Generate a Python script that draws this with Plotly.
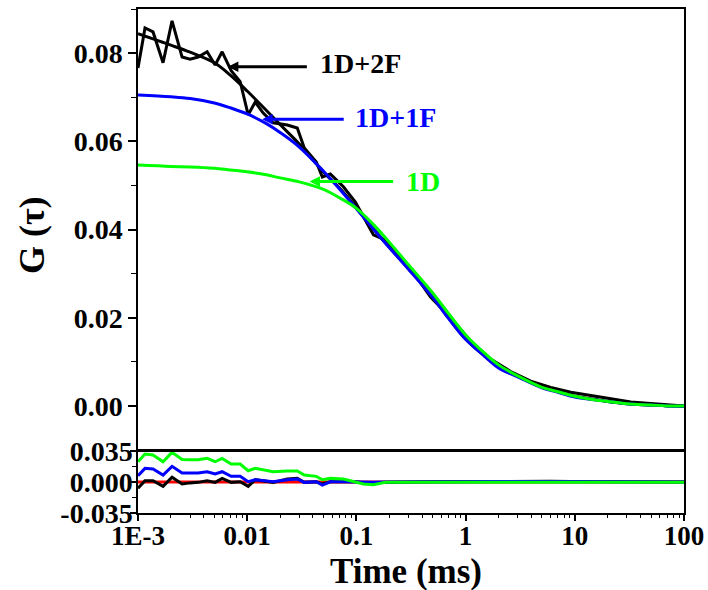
import math
import plotly.graph_objects as go

# ---------------- data ----------------
tau_data = [0.001000, 0.001159, 0.001373, 0.001696, 0.002050, 0.002533, 0.003000,
            0.003553, 0.004296, 0.005086, 0.005896, 0.007130, 0.008623, 0.01021,
            0.01184, 0.01402, 0.01731, 0.02328, 0.02875, 0.03333, 0.04295, 0.04875,
            0.05774, 0.07599, 0.09790, 0.1159, 0.1432, 0.1845, 0.2377, 0.3333,
            0.4775, 0.7285, 1.112, 1.696, 2.587, 3.947, 6.023, 9.190, 14.02,
            21.40, 32.65, 49.81, 76.00, 100.0]
g_data = [0.0766, 0.0857, 0.0848, 0.0778, 0.0873, 0.0791, 0.0786, 0.0791, 0.0803,
          0.0773, 0.0803, 0.0760, 0.0735, 0.0660, 0.0689, 0.0664, 0.0642, 0.0637,
          0.0630, 0.0585, 0.0553, 0.0519, 0.0526, 0.0497, 0.0462, 0.0428, 0.0388,
          0.0376, 0.0347, 0.0302, 0.0247, 0.0200, 0.0147, 0.0106, 0.0078, 0.0056,
          0.0042, 0.0031, 0.0023, 0.0016, 0.0009, 0.0005, 0.0002, 0.0000]

res_1d2f = [-0.0071, 0.0014, 0.0014, -0.0049, 0.0053, -0.0023, -0.0010, -0.0004,
            0.0014, -0.0004, 0.0041, -0.0004, 0.0003, -0.0049, 0.0026, 0.0010,
            -0.0004, 0.0034, 0.0041, -0.0004, 0.0003, -0.0023, 0.0003, 0.0003,
            0.0003, -0.0008, -0.0005, 0.0000, 0.0000, 0.0000, 0.0002, 0.0003,
            0.0005, 0.0010, 0.0012, 0.0010, 0.0008, 0.0005, 0.0003, 0.0002,
            0.0000, 0.0000, 0.0000, 0.0000]
res_1d1f = [0.0071, 0.0154, 0.0146, 0.0079, 0.0177, 0.0101, 0.0101, 0.0101, 0.0116,
            0.0090, 0.0116, 0.0064, 0.0064, 0.0003, 0.0026, 0.0015, 0.0003, 0.0026,
            0.0034, -0.0004, 0.0003, -0.0034, 0.0003, 0.0003, 0.0000, -0.0005,
            -0.0003, 0.0000, 0.0000, -0.0003, -0.0005, -0.0003, 0.0002, 0.0005,
            0.0005, 0.0005, 0.0003, 0.0003, 0.0002, 0.0000, 0.0000, 0.0000, 0.0000,
            0.0000]
res_1d = [0.0229, 0.0316, 0.0305, 0.0229, 0.0335, 0.0254, 0.0251, 0.0251, 0.0267,
          0.0229, 0.0267, 0.0203, 0.0203, 0.0127, 0.0154, 0.0139, 0.0116, 0.0124,
          0.0124, 0.0079, 0.0064, 0.0026, 0.0041, 0.0034, 0.0003, -0.0023, -0.0031,
          -0.0004, -0.0004, -0.0004, -0.0002, 0.0000, 0.0002, 0.0000, -0.0003,
          -0.0003, -0.0003, -0.0003, -0.0003, -0.0003, -0.0003, -0.0003, -0.0003,
          -0.0003]
res_zero = [0.0] * len(tau_data)

fit_tau = [0.001, 0.002, 0.003, 0.005, 0.007, 0.01, 0.015, 0.02, 0.03, 0.05, 0.07,
           0.1, 0.15, 0.2, 0.3, 0.5, 0.7, 1, 1.5, 2, 3, 5, 7, 10, 15, 20, 30, 50,
           70, 100]
fit_1d = [0.0546, 0.0543, 0.0542, 0.0539, 0.0535, 0.0531, 0.0524, 0.0517, 0.0508,
          0.0491, 0.0472, 0.0448, 0.0406, 0.0371, 0.0320, 0.0256, 0.0209, 0.0161,
          0.0119, 0.0093, 0.0068, 0.0042, 0.0032, 0.0022, 0.0014, 0.0010, 0.0005,
          0.0002, 0.0000, 0.0000]
fit_1d1f = [0.0705, 0.0701, 0.0697, 0.0687, 0.0676, 0.0662, 0.0640, 0.0620, 0.0587,
            0.0532, 0.0492, 0.0447, 0.0395, 0.0359, 0.0310, 0.0246, 0.0198, 0.0151,
            0.0112, 0.0086, 0.0066, 0.0041, 0.0031, 0.0020, 0.0014, 0.0010, 0.0005,
            0.0002, 0.0000, -0.0001]
fit_1d2f = [0.0844, 0.0818, 0.0802, 0.0778, 0.0750, 0.0714, 0.0670, 0.0638, 0.0594,
            0.0530, 0.0494, 0.0449, 0.0396, 0.0360, 0.0311, 0.0247, 0.0199, 0.0152,
            0.0113, 0.0088, 0.0067, 0.0043, 0.0032, 0.0022, 0.0015, 0.0010, 0.0005,
            0.0002, 0.0000, 0.0000]

x_tick_vals = [0.001, 0.01, 0.1, 1, 10, 100]
x_tick_text = ["1E-3", "0.01", "0.1", "1", "10", "100"]
g_tick_vals = [0.00, 0.02, 0.04, 0.06, 0.08]
g_tick_text = ["0.00", "0.02", "0.04", "0.06", "0.08"]
g_minor_vals = [-0.01, 0.01, 0.03, 0.05, 0.07, 0.09]
res_tick_vals = [-0.035, 0.0, 0.035]
res_tick_text = ["-0.035", "0.000", "0.035"]
res_minor_vals = [-0.0175, 0.0175]
x_minor_vals = [m * 10.0 ** e for e in range(-3, 2) for m in range(2, 10)]

label_text = ["1D+2F", "1D+1F", "1D"]

# ---------------- styling ----------------
FONT = "Liberation Serif, Times New Roman, serif"
BLACK = "#000000"
BLUE = "#0000FF"
GREEN = "#00FF00"
RED = "#FF0000"
LW = 3

fig = go.Figure()
# main panel
fig.add_trace(go.Scatter(x=tau_data, y=g_data, mode="lines", xaxis="x2", yaxis="y2",
                         line=dict(color=BLACK, width=LW)))
fig.add_trace(go.Scatter(x=fit_tau, y=fit_1d2f, mode="lines", xaxis="x2", yaxis="y2",
                         line=dict(color=BLACK, width=LW, shape="spline")))
fig.add_trace(go.Scatter(x=fit_tau, y=fit_1d1f, mode="lines", xaxis="x2", yaxis="y2",
                         line=dict(color=BLUE, width=LW, shape="spline")))
fig.add_trace(go.Scatter(x=fit_tau, y=fit_1d, mode="lines", xaxis="x2", yaxis="y2",
                         line=dict(color=GREEN, width=LW, shape="spline")))
# residual panel
fig.add_trace(go.Scatter(x=tau_data, y=res_zero, mode="lines", xaxis="x", yaxis="y",
                         line=dict(color=RED, width=LW)))
fig.add_trace(go.Scatter(x=tau_data, y=res_1d2f, mode="lines", xaxis="x", yaxis="y",
                         line=dict(color=BLACK, width=LW)))
fig.add_trace(go.Scatter(x=tau_data, y=res_1d1f, mode="lines", xaxis="x", yaxis="y",
                         line=dict(color=BLUE, width=LW)))
fig.add_trace(go.Scatter(x=tau_data, y=res_1d, mode="lines", xaxis="x", yaxis="y",
                         line=dict(color=GREEN, width=LW)))

tickfont = dict(family=FONT, size=28, color=BLACK, weight="bold")
xtickfont = dict(family=FONT, size=27, color=BLACK, weight="bold")
axis_common = dict(showgrid=False, zeroline=False, showline=True, linecolor=BLACK,
                   linewidth=1.5, mirror=True, automargin=False)

fig.update_layout(
    width=708, height=590,
    margin=dict(l=138, r=24, t=9, b=77, autoexpand=False),
    plot_bgcolor="white", paper_bgcolor="white",
    showlegend=False,
    xaxis=dict(type="log", range=[-3, 2], domain=[0, 1], anchor="y",
               tickmode="array", tickvals=x_tick_vals, ticktext=x_tick_text,
               ticks="outside", ticklen=6, tickwidth=1.5, tickcolor=BLACK,
               tickfont=xtickfont, ticklabelstandoff=-8,
               minor=dict(tickmode="array", tickvals=x_minor_vals, ticks="outside",
                          ticklen=3, tickwidth=1, tickcolor=BLACK),
               **axis_common),
    xaxis2=dict(type="log", range=[-3, 2], domain=[0, 1], anchor="y2", matches="x",
                showticklabels=False, ticks="", **axis_common),
    yaxis=dict(domain=[0, 0.123], range=[-0.035, 0.035], anchor="x",
               tickmode="array", tickvals=res_tick_vals, ticktext=res_tick_text,
               ticks="outside", ticklen=6, tickwidth=1.5, tickcolor=BLACK,
               tickfont=tickfont, ticklabelstandoff=-8,
               minor=dict(tickmode="array", tickvals=res_minor_vals, ticks="outside",
                          ticklen=4, tickwidth=1, tickcolor=BLACK),
               **axis_common),
    yaxis2=dict(domain=[0.125, 1], range=[-0.01, 0.09], anchor="x2",
                tickmode="array", tickvals=g_tick_vals, ticktext=g_tick_text,
                ticks="outside", ticklen=8, tickwidth=1.5, tickcolor=BLACK,
                tickfont=tickfont, ticklabelstandoff=0,
                minor=dict(tickmode="array", tickvals=g_minor_vals, ticks="outside",
                           ticklen=5, tickwidth=1, tickcolor=BLACK),
                **axis_common),
)

# arrows: (tip tau, tip G, tail tau, color)
arrows = [
    (0.00665, 0.0769, 0.0363, BLACK),
    (0.0137, 0.0650, 0.0790, BLUE),
    (0.0372, 0.0509, 0.224, GREEN),
]
labels = [
    (0.0448, 0.0776, BLACK),
    (0.0937, 0.0654, BLUE),
    (0.275, 0.0508, GREEN),
]
anns = []
for (xt, yt, xa, col) in arrows:
    anns.append(dict(x=math.log10(xt), y=yt, ax=math.log10(xa), ay=yt,
                     xref="x2", yref="y2", axref="x2", ayref="y2", text="",
                     showarrow=True, arrowhead=2, arrowsize=0.7, arrowwidth=3,
                     arrowcolor=col, standoff=0))
for (txt, (xl, yl, col)) in zip(label_text, labels):
    anns.append(dict(x=math.log10(xl), y=yl, xref="x2", yref="y2", text="<b>%s</b>" % txt,
                     showarrow=False, xanchor="left", yanchor="middle",
                     font=dict(family=FONT, size=28, color=col)))
# axis titles
anns.append(dict(x=0.49, y=-0.116, xref="paper", yref="paper", text="<b>Time (ms)</b>",
                 showarrow=False, xanchor="center", yanchor="middle",
                 font=dict(family=FONT, size=35, color=BLACK)))
anns.append(dict(x=-0.194, y=0.5516, xref="paper", yref="paper", text="<b>G (\u03c4)</b>",
                 showarrow=False, xanchor="center", yanchor="middle", textangle=-90,
                 font=dict(family=FONT, size=36, color=BLACK)))
fig.update_layout(annotations=anns)

fig.write_html("out.html", config={"displayModeBar": False},
               post_script="document.body.style.margin='0';document.body.style.overflow='hidden';")
